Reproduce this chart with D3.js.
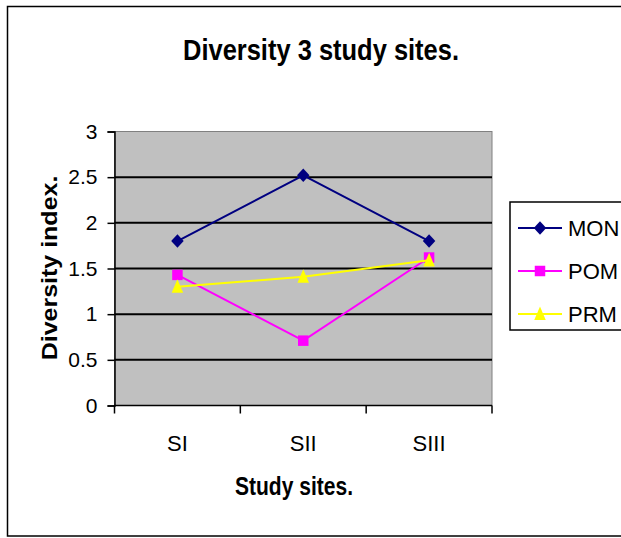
<!DOCTYPE html>
<html>
<head>
<meta charset="utf-8">
<script src="https://cdn.jsdelivr.net/npm/d3@7"></script>
<style>
  html, body { margin: 0; padding: 0; background: #fff; }
  svg { display: block; font-family: "Liberation Sans", Arial, sans-serif; }
</style>
</head>
<body>
<svg id="chart" width="621" height="538"></svg>
<script>
// Diversity index per study site for three groups
const sites = ["SI", "SII", "SIII"];
const seriesNames = ["MON", "POM", "PRM"];
const monValues = [1.80, 2.52, 1.80];
const pomValues = [1.43, 0.71, 1.62];
const prmValues = [1.30, 1.41, 1.59];
const yTicks = [0, 0.5, 1, 1.5, 2, 2.5, 3];
const seriesColors = ["#000080", "#FF00FF", "#FFFF00"];

// marker shapes: width/height in px, drawn around the point
const diamondMarker = {
  draw(ctx, size) {
    const w = size / 2, h = size * 0.54;
    ctx.moveTo(0, -h); ctx.lineTo(w, 0); ctx.lineTo(0, h); ctx.lineTo(-w, 0); ctx.closePath();
  }
};
const squareMarker = {
  draw(ctx, size) {
    const s = size / 2;
    ctx.rect(-s, -s, size, size);
  }
};
const triangleMarker = {
  draw(ctx, size) {
    const w = size / 2, h = size * 1.18;
    ctx.moveTo(0, -h * 0.55); ctx.lineTo(w, h * 0.45); ctx.lineTo(-w, h * 0.45); ctx.closePath();
  }
};
const seriesSymbols = [diamondMarker, squareMarker, triangleMarker];
const symbolSizes = [12.5, 10.5, 11.5];

const series = [monValues, pomValues, prmValues].map((values, i) => ({
  name: seriesNames[i],
  values,
  color: seriesColors[i],
  symbol: seriesSymbols[i],
  size: symbolSizes[i]
}));

const svg = d3.select("#chart");

// chart frame (right edge runs past the canvas)
svg.append("rect")
  .attr("x", 7.5).attr("y", 6.5)
  .attr("width", 640).attr("height", 529.5)
  .attr("fill", "#fff").attr("stroke", "#000").attr("stroke-width", 1.5);

const plot = { left: 114.5, right: 492, top: 131.5, bottom: 405.5 };

const x = d3.scaleBand().domain(sites).range([plot.left, plot.right]);
const y = d3.scaleLinear().domain([0, 3]).range([plot.bottom, plot.top]);

// plot area
svg.append("rect")
  .attr("x", plot.left).attr("y", plot.top)
  .attr("width", plot.right - plot.left).attr("height", plot.bottom - plot.top)
  .attr("fill", "#C0C0C0").attr("stroke", "#808080").attr("stroke-width", 1);

// horizontal gridlines
svg.append("g")
  .selectAll("line")
  .data(yTicks.filter(t => t > 0 && t < 3))
  .join("line")
  .attr("x1", plot.left).attr("x2", plot.right)
  .attr("y1", d => y(d)).attr("y2", d => y(d))
  .attr("stroke", "#000").attr("stroke-width", 2);

// y axis
const yAxis = svg.append("g")
  .attr("transform", `translate(${plot.left},0)`)
  .call(d3.axisLeft(y).tickValues(yTicks).tickFormat(d3.format("")).tickSize(7).tickPadding(10));
yAxis.select(".domain").attr("stroke", "#000").attr("stroke-width", 1.5);
yAxis.selectAll(".tick line").attr("stroke", "#000").attr("stroke-width", 1.5);
yAxis.selectAll(".tick text")
  .attr("font-size", 21).attr("fill", "#000")
  .style("font-family", "'Liberation Sans', Arial, sans-serif");

// x axis: ticks at category boundaries, labels at category centres
const xAxisG = svg.append("g");
xAxisG.append("line")
  .attr("x1", plot.left).attr("x2", plot.right)
  .attr("y1", plot.bottom).attr("y2", plot.bottom)
  .attr("stroke", "#000").attr("stroke-width", 1.5);
const boundaries = sites.map(s => x(s)).concat([x(sites[sites.length - 1]) + x.bandwidth()]);
xAxisG.selectAll("line.tick")
  .data(boundaries)
  .join("line")
  .attr("class", "tick")
  .attr("x1", d => d).attr("x2", d => d)
  .attr("y1", plot.bottom).attr("y2", plot.bottom + 8)
  .attr("stroke", "#000").attr("stroke-width", 1.5);
xAxisG.selectAll("text")
  .data(sites)
  .join("text")
  .attr("x", d => x(d) + x.bandwidth() / 2)
  .attr("y", 451)
  .attr("text-anchor", "middle")
  .attr("font-size", 22)
  .attr("fill", "#000")
  .text(d => d);

// series lines and markers
const line = d3.line()
  .x((d, i) => x(sites[i]) + x.bandwidth() / 2)
  .y(d => y(d));

series.forEach(s => {
  const g = svg.append("g");
  g.append("path")
    .datum(s.values)
    .attr("d", line)
    .attr("fill", "none")
    .attr("stroke", s.color)
    .attr("stroke-width", 2);
  g.selectAll("path.marker")
    .data(s.values)
    .join("path")
    .attr("class", "marker")
    .attr("transform", (d, i) => `translate(${x(sites[i]) + x.bandwidth() / 2},${y(d)})`)
    .attr("d", d3.symbol().type(s.symbol).size(s.size))
    .attr("fill", s.color);
});

// titles
svg.append("text")
  .attr("x", 321).attr("y", 60)
  .attr("text-anchor", "middle")
  .attr("font-size", 30).attr("font-weight", "bold")
  .attr("textLength", 276).attr("lengthAdjust", "spacingAndGlyphs")
  .text("Diversity 3 study sites.");

svg.append("text")
  .attr("x", 294).attr("y", 495)
  .attr("text-anchor", "middle")
  .attr("font-size", 25).attr("font-weight", "bold")
  .attr("textLength", 118).attr("lengthAdjust", "spacingAndGlyphs")
  .text("Study sites.");

svg.append("text")
  .attr("transform", "translate(56.5,268) scale(0.87,1) rotate(-90)")
  .attr("text-anchor", "middle")
  .attr("font-size", 25).attr("font-weight", "bold")
  .text("Diversity index.");

// legend
const legend = svg.append("g");
legend.append("rect")
  .attr("x", 510).attr("y", 202)
  .attr("width", 130).attr("height", 128)
  .attr("fill", "#fff").attr("stroke", "#000").attr("stroke-width", 1.5);
const rowY = [228, 271, 314];
series.forEach((s, i) => {
  const r = legend.append("g").attr("transform", `translate(0,${rowY[i]})`);
  r.append("line")
    .attr("x1", 518).attr("x2", 562).attr("y1", 0).attr("y2", 0)
    .attr("stroke", s.color).attr("stroke-width", 2);
  r.append("path")
    .attr("transform", "translate(540,0)")
    .attr("d", d3.symbol().type(s.symbol).size(s.size))
    .attr("fill", s.color);
  r.append("text")
    .attr("x", 568).attr("y", 8)
    .attr("font-size", 22).attr("fill", "#000")
    .text(s.name);
});
</script>
</body>
</html>
